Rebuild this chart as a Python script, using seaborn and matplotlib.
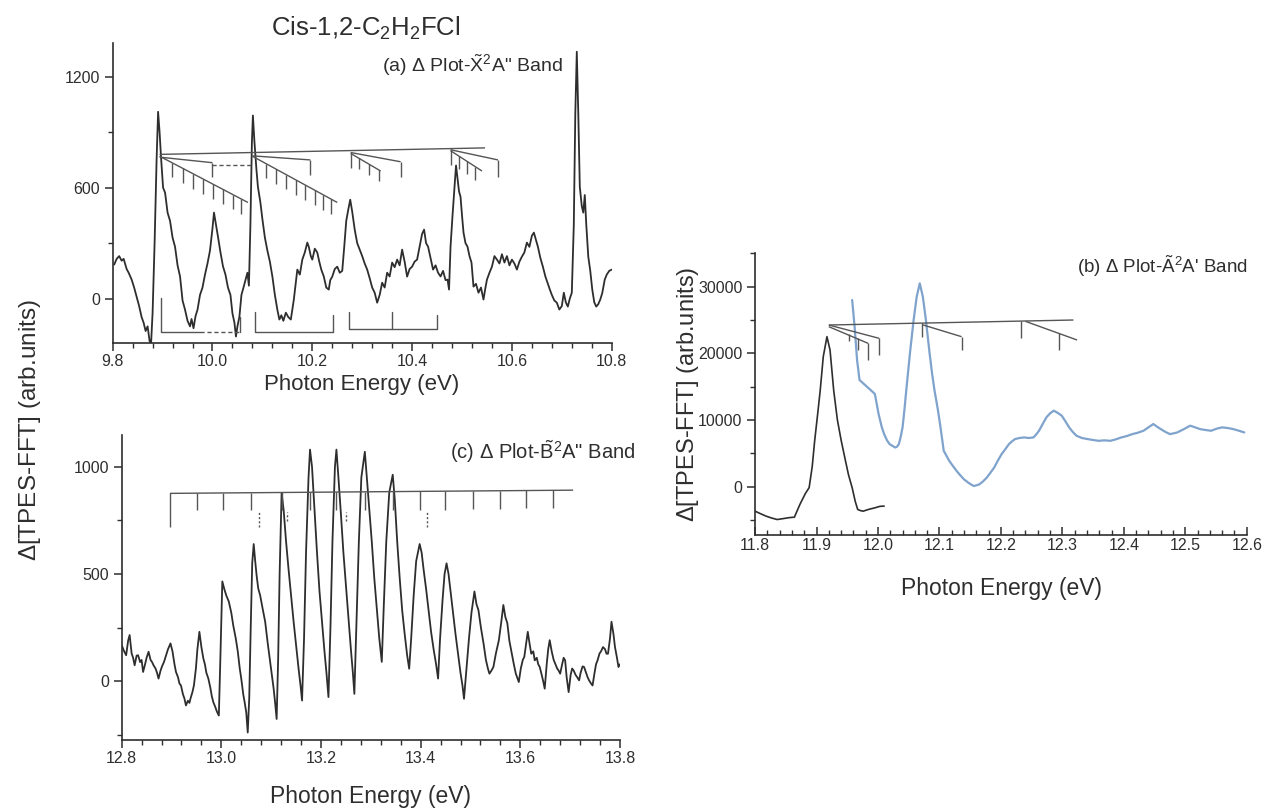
import numpy as np
import pandas as pd
import matplotlib
matplotlib.use("Agg")
import matplotlib.pyplot as plt
import seaborn as sns
from matplotlib.ticker import MultipleLocator, FormatStrFormatter

# ---------------- data: panel (a)  X~2A" band ----------------
a_energy = [9.803, 9.808, 9.813, 9.818, 9.822, 9.828, 9.832, 9.838, 9.843, 9.848, 9.853, 9.858, 9.862, 9.866,
            9.870, 9.874, 9.877, 9.880, 9.884, 9.888, 9.891, 9.894, 9.897, 9.901, 9.905, 9.910, 9.915, 9.920,
            9.925, 9.930, 9.935, 9.940, 9.945, 9.950, 9.955, 9.958, 9.962, 9.966, 9.970, 9.975, 9.980, 9.985,
            9.990, 9.995, 10.000, 10.003, 10.007, 10.011, 10.016, 10.021, 10.026, 10.031, 10.036, 10.040,
            10.044, 10.047, 10.050, 10.054, 10.058, 10.061, 10.066, 10.070, 10.073, 10.076, 10.079, 10.081,
            10.084, 10.088, 10.091, 10.096, 10.100, 10.105, 10.110, 10.115, 10.120, 10.125, 10.130, 10.134,
            10.138, 10.142, 10.147, 10.152, 10.157, 10.160, 10.163, 10.167, 10.170, 10.175, 10.180, 10.185,
            10.190, 10.193, 10.197, 10.200, 10.205, 10.210, 10.214, 10.218, 10.223, 10.228, 10.233, 10.236,
            10.240, 10.245, 10.250, 10.255, 10.260, 10.264, 10.268, 10.272, 10.276, 10.280, 10.285, 10.290,
            10.295, 10.300, 10.305, 10.310, 10.315, 10.320, 10.325, 10.330, 10.335, 10.340, 10.345, 10.350,
            10.355, 10.360, 10.365, 10.370, 10.375, 10.380, 10.385, 10.390, 10.395, 10.400, 10.405, 10.410,
            10.415, 10.420, 10.424, 10.428, 10.432, 10.437, 10.442, 10.447, 10.452, 10.457, 10.462, 10.467,
            10.471, 10.474, 10.477, 10.481, 10.485, 10.488, 10.491, 10.494, 10.497, 10.500, 10.503, 10.507,
            10.511, 10.515, 10.519, 10.523, 10.528, 10.533, 10.538, 10.543, 10.547, 10.550, 10.555, 10.560,
            10.565, 10.570, 10.575, 10.580, 10.585, 10.590, 10.595, 10.600, 10.605, 10.610, 10.615, 10.620,
            10.625, 10.630, 10.635, 10.640, 10.644, 10.648, 10.652, 10.657, 10.662, 10.667, 10.672, 10.676,
            10.680, 10.685, 10.690, 10.695, 10.700, 10.704, 10.708, 10.712, 10.716, 10.720, 10.724, 10.727,
            10.730, 10.733, 10.736, 10.740, 10.743, 10.746, 10.749, 10.753, 10.757, 10.761, 10.765, 10.769,
            10.773, 10.777, 10.781, 10.786, 10.790, 10.795, 10.800]
a_signal = [184, 215, 230, 205, 215, 160, 140, 103, 60, 11, -40, -100, -130, -175,
            -150, -230, -240, -76, 300, 750, 1010, 900, 760, 600, 573, 465, 420, 330,
            280, 180, 120, -10, -60, -120, -150, -110, -160, -95, -60, 20, 60, 130,
            190, 260, 380, 465, 400, 335, 250, 175, 130, 60, 20, -80,
            -130, -205, -150, -97, 20, 49, 100, 140, 70, 400, 850, 990,
            850, 700, 605, 520, 430, 330, 260, 200, 120, 20, -60, -113,
            -90, -120, -76, -100, -113, -60, -5, 90, 157, 130, 211, 250,
            303, 280, 230, 211, 270, 249, 200, 157, 120, 60, 49, 100,
            119, 160, 173, 140, 150, 280, 420, 480, 535, 470, 373, 300,
            265, 230, 190, 157, 110, 60, 32, -22, 20, 86, 60, 140,
            120, 195, 170, 211, 180, 265, 200, 119, 160, 173, 200, 211,
            280, 350, 373, 300, 281, 220, 157, 180, 140, 120, 150, 100,
            103, 49, 281, 450, 600, 720, 650, 580, 551, 450, 357, 300,
            281, 230, 195, 65, 80, 32, 60, -5, 60, 103, 140, 173,
            230, 211, 190, 240, 195, 230, 180, 211, 190, 157, 200, 227,
            250, 303, 280, 340, 357, 320, 281, 220, 173, 120, 80, 49,
            20, -10, -22, -59, -40, 32, -20, -43, 0, 32, 400, 1000,
            1335, 1000, 605, 500, 465, 560, 400, 227, 150, 49, -20, -43,
            -30, -5, 30, 103, 130, 150, 157]

# assignment combs, panel (a): solid lines (E0, E1, V0, V1)
a_comb_lines = [(9.894, 10.546, 780, 815), (9.894, 10.071, 770, 520), (9.894, 10.000, 765, 735),
                (10.080, 10.250, 770, 520), (10.080, 10.196, 772, 750), (10.277, 10.377, 790, 740),
                (10.277, 10.337, 785, 690), (10.477, 10.572, 805, 750), (10.477, 10.540, 800, 690)]
a_comb_dashed = [(10.000, 10.078, 725, 725)]
a_tick_E = [9.918, 9.940, 9.961, 9.981, 10.001, 10.021, 10.041, 10.058, 10.000,
            10.107, 10.127, 10.147, 10.167, 10.186, 10.205, 10.222, 10.238, 10.196,
            10.277, 10.377, 10.293, 10.313, 10.333,
            10.477, 10.572, 10.493, 10.510, 10.527]
a_tick_top = [736, 705, 675, 647, 619, 591, 562, 538, 735,
              730, 701, 671, 642, 614, 586, 561, 538, 750,
              795, 740, 760, 728, 696,
              810, 750, 772, 742, 713]
a_tick_bot = [656, 625, 595, 567, 539, 511, 482, 458, 655,
              650, 621, 591, 562, 534, 506, 481, 458, 670,
              705, 660, 700, 668, 636,
              720, 660, 702, 672, 643]
# brackets at the bottom of panel (a)
a_br_E = [[9.896, 9.896, 9.975], [10.055, 10.055], [10.085, 10.085, 10.242, 10.242],
          [10.274, 10.274, 10.449, 10.449], [10.359, 10.359]]
a_br_V = [[2, -178, -178], [-99, -178], [-72, -178, -178, -90],
          [-72, -162, -162, -90], [-72, -162]]
a_br_dashed = [(9.975, 10.055, -178, -178)]

# ---------------- data: panel (b)  A~2A' band ----------------
b_energy_1 = [11.800, 11.810, 11.818, 11.827, 11.836, 11.845, 11.855, 11.864, 11.873, 11.882, 11.888,
              11.893, 11.897, 11.902, 11.906, 11.911, 11.917, 11.922, 11.928, 11.934, 11.940, 11.946,
              11.952, 11.958, 11.963, 11.967, 11.972, 11.976, 11.985, 11.995, 12.003, 12.010]
b_signal_1 = [-3670, -4100, -4420, -4700, -4925, -4800, -4650, -4570, -2660, -1000, -150,
              3000, 6880, 11000, 14420, 19500, 22500, 20500, 14420, 10000, 7000, 4370,
              1800, -150, -2200, -3420, -3600, -3670, -3400, -3170, -2950, -2910]
b_energy_2 = [11.958, 11.962, 11.966, 11.970, 11.976, 11.982, 11.988, 11.995, 12.001, 12.006, 12.010,
              12.015, 12.019, 12.024, 12.028, 12.031, 12.034, 12.037, 12.040, 12.043, 12.046, 12.052,
              12.058, 12.063, 12.068, 12.073, 12.078, 12.084, 12.088, 12.092, 12.097, 12.101, 12.107,
              12.116, 12.122, 12.128, 12.134, 12.140, 12.147, 12.152, 12.156, 12.160, 12.165, 12.171,
              12.177, 12.183, 12.189, 12.195, 12.201, 12.207, 12.213, 12.218, 12.223, 12.230, 12.238,
              12.245, 12.253, 12.258, 12.262, 12.268, 12.274, 12.280, 12.286, 12.292, 12.299, 12.305,
              12.311, 12.317, 12.323, 12.332, 12.341, 12.350, 12.359, 12.368, 12.378, 12.387, 12.396,
              12.405, 12.414, 12.423, 12.432, 12.440, 12.448, 12.454, 12.460, 12.468, 12.475, 12.481,
              12.487, 12.497, 12.508, 12.516, 12.524, 12.533, 12.542, 12.551, 12.560, 12.569, 12.578,
              12.587, 12.596]
b_signal_2 = [28000, 24000, 19000, 16000, 15500, 15000, 14500, 13900, 10900, 9000, 7890,
              6900, 6380, 6100, 5880, 6000, 6380, 7500, 8900, 11500, 14420, 20000,
              25000, 28500, 30500, 28500, 25000, 20000, 17000, 14420, 11800, 9400, 5380,
              3870, 3100, 2360, 1700, 1100, 600, 300, 100, 200, 350, 800,
              1360, 2100, 2860, 3900, 4870, 5600, 6380, 6800, 7140, 7300, 7390,
              7300, 7390, 7900, 8390, 9400, 10400, 11000, 11400, 11100, 10650, 9800,
              8900, 8200, 7640, 7300, 7140, 7000, 6880, 6950, 6880, 7100, 7390,
              7600, 7890, 8100, 8390, 8900, 9400, 9000, 8640, 8200, 7890, 8000,
              8140, 8600, 9150, 8900, 8640, 8500, 8390, 8700, 8900, 8800, 8640,
              8400, 8140]
b_comb_lines = [(11.920, 12.318, 24250, 25000), (11.920, 12.002, 24250, 22250), (11.920, 11.984, 24000, 21500),
                (12.072, 12.136, 24300, 22500), (12.240, 12.324, 24800, 22000)]
b_tick_E = [12.002, 11.953, 11.967, 11.984, 12.072, 12.136, 12.233, 12.294]
b_tick_top = [22250, 22900, 22300, 21500, 24500, 22500, 24800, 23000]
b_tick_bot = [19750, 21800, 20500, 19000, 22500, 20500, 22250, 20500]

# ---------------- data: panel (c)  B~2A" band ----------------
c_energy = [12.800, 12.805, 12.809, 12.813, 12.816, 12.820, 12.823, 12.826, 12.830, 12.833, 12.837, 12.840,
            12.843, 12.847, 12.850, 12.854, 12.858, 12.861, 12.864, 12.868, 12.871, 12.874, 12.878, 12.881,
            12.885, 12.889, 12.893, 12.898, 12.902, 12.906, 12.909, 12.913, 12.916, 12.919, 12.923, 12.926,
            12.929, 12.933, 12.936, 12.938, 12.942, 12.945, 12.949, 12.952, 12.956, 12.960, 12.964, 12.967,
            12.970, 12.974, 12.978, 12.981, 12.984, 12.988, 12.991, 12.995, 12.998, 13.002, 13.006, 13.010,
            13.015, 13.020, 13.024, 13.029, 13.033, 13.037, 13.040, 13.044, 13.047, 13.050, 13.053, 13.056,
            13.059, 13.062, 13.065, 13.068, 13.071, 13.074, 13.078, 13.082, 13.088, 13.093, 13.098, 13.102,
            13.105, 13.108, 13.111, 13.114, 13.117, 13.121, 13.125, 13.130, 13.135, 13.140, 13.145, 13.150,
            13.155, 13.159, 13.162, 13.166, 13.170, 13.175, 13.178, 13.182, 13.187, 13.192, 13.197, 13.202,
            13.207, 13.211, 13.215, 13.219, 13.223, 13.228, 13.231, 13.235, 13.240, 13.245, 13.250, 13.255,
            13.260, 13.264, 13.267, 13.271, 13.276, 13.281, 13.288, 13.292, 13.297, 13.302, 13.307, 13.312,
            13.317, 13.322, 13.326, 13.331, 13.337, 13.344, 13.348, 13.353, 13.358, 13.363, 13.368, 13.373,
            13.377, 13.381, 13.386, 13.391, 13.398, 13.402, 13.406, 13.411, 13.416, 13.421, 13.426, 13.431,
            13.435, 13.439, 13.444, 13.448, 13.452, 13.456, 13.460, 13.465, 13.470, 13.475, 13.480, 13.484,
            13.487, 13.492, 13.497, 13.502, 13.508, 13.512, 13.516, 13.521, 13.526, 13.531, 13.535, 13.538,
            13.542, 13.546, 13.551, 13.557, 13.562, 13.566, 13.570, 13.574, 13.578, 13.582, 13.587, 13.591,
            13.595, 13.597, 13.601, 13.605, 13.608, 13.612, 13.615, 13.619, 13.622, 13.626, 13.629, 13.633,
            13.636, 13.639, 13.643, 13.646, 13.649, 13.653, 13.656, 13.659, 13.663, 13.667, 13.670, 13.674,
            13.677, 13.680, 13.684, 13.687, 13.690, 13.693, 13.697, 13.701, 13.704, 13.707, 13.711, 13.714,
            13.718, 13.721, 13.725, 13.728, 13.732, 13.735, 13.738, 13.742, 13.745, 13.749, 13.752, 13.755,
            13.759, 13.762, 13.766, 13.770, 13.773, 13.776, 13.780, 13.783, 13.787, 13.790, 13.794, 13.797,
            13.800]
c_signal = [169, 140, 122, 190, 216, 130, 110, 75, 120, 122, 90, 100,
            44, 80, 110, 138, 100, 90, 75, 60, 40, 13, 50, 70,
            91, 120, 150, 177, 140, 80, 44, 20, -10, -19, -60, -80,
            -112, -90, -100, -81, -50, -19, 60, 150, 231, 160, 106, 80,
            40, 13, -30, -70, -97, -120, -140, -159, 100, 466, 430, 400,
            372, 320, 260, 200, 140, 60, 13, -60, -100, -144, -238, -80,
            250, 550, 640, 560, 490, 434, 400, 350, 278, 180, 91, 20,
            -34, -100, -175, 100, 500, 878, 800, 650, 520, 400, 280, 170,
            60, -20, -89, 200, 600, 950, 1080, 1000, 800, 600, 420, 280,
            140, 40, -73, 250, 650, 1000, 1080, 950, 780, 600, 450, 300,
            150, 40, -58, 250, 650, 950, 1070, 950, 800, 650, 480, 340,
            200, 91, 350, 650, 880, 963, 850, 650, 480, 330, 220, 120,
            59, 200, 400, 560, 640, 600, 520, 430, 330, 230, 150, 80,
            13, 200, 380, 500, 550, 500, 420, 320, 220, 130, 40, -20,
            -81, 60, 200, 320, 419, 360, 332, 250, 180, 100, 60, 36,
            50, 67, 130, 192, 280, 356, 300, 271, 190, 140, 80, 36,
            10, -3, 60, 100, 114, 180, 231, 170, 129, 140, 98, 110,
            80, 67, 30, 0, -34, 80, 150, 192, 140, 100, 83, 60,
            50, 36, 80, 110, 98, 20, -50, 30, 60, 51, 30, 20,
            5, 40, 70, 67, 40, 20, 5, -10, -19, 40, 80, 98,
            130, 140, 160, 150, 129, 129, 200, 278, 220, 160, 110, 67,
            80]
c_comb_lines = [(12.897, 13.706, 876, 891)]
c_tick_E = [12.897, 12.952, 13.003, 13.059, 13.121, 13.178, 13.231, 13.288, 13.344, 13.398,
            13.449, 13.505, 13.559, 13.612, 13.666]
c_tick_top = [877, 878, 879, 880, 881, 882, 883, 884, 885, 886, 887, 888, 889, 890, 891]
c_tick_bot = [720, 798, 798, 798, 798, 798, 798, 798, 798, 798, 800, 802, 804, 806, 808]
c_dot_E = [13.075, 13.131, 13.251, 13.412]
c_dot_top = [790, 790, 790, 790]
c_dot_bot = [720, 745, 745, 720]

# ---------------- style ----------------
sns.set_theme(style="ticks")
plt.rcParams["font.family"] = ["Liberation Sans", "DejaVu Sans"]
plt.rcParams["mathtext.fontset"] = "custom"
plt.rcParams["mathtext.rm"] = "Liberation Sans"
plt.rcParams["mathtext.it"] = "Liberation Sans:italic"
plt.rcParams["mathtext.bf"] = "Liberation Sans:bold"

INK = "#2e2e2e"
COMB = "#555555"
BLUE = "#7fa3cc"

fig = plt.figure(figsize=(12.66, 8.09), dpi=100)
ax_a = fig.add_axes([0.0890, 0.5760, 0.3942, 0.3708])
ax_c = fig.add_axes([0.0961, 0.0853, 0.3936, 0.3770])
ax_b = fig.add_axes([0.5964, 0.3387, 0.3884, 0.3486])


def style_axes(ax, xlim, ylim, xmaj, xmin, ymaj, ymin, xdir):
    ax.set_xlim(*xlim)
    ax.set_ylim(*ylim)
    sns.despine(ax=ax)
    for s in ("left", "bottom"):
        ax.spines[s].set_color(INK)
        ax.spines[s].set_linewidth(1.2)
    ax.xaxis.set_major_locator(MultipleLocator(xmaj))
    ax.xaxis.set_minor_locator(MultipleLocator(xmin))
    ax.yaxis.set_major_locator(MultipleLocator(ymaj))
    ax.yaxis.set_minor_locator(MultipleLocator(ymin))
    ax.xaxis.set_major_formatter(FormatStrFormatter("%.1f"))
    ax.tick_params(axis="x", which="major", direction=xdir, length=6, width=1.1, color=INK,
                   labelsize=11.5, labelcolor=INK, pad=2)
    ax.tick_params(axis="x", which="minor", direction=xdir, length=3.5, width=1.0, color=INK)
    ax.tick_params(axis="y", which="major", direction="out", length=6, width=1.1, color=INK,
                   labelsize=11.5, labelcolor=INK, pad=3)
    ax.tick_params(axis="y", which="minor", direction="out", length=3.5, width=1.0, color=INK)
    ax.set_xlabel("")
    ax.set_ylabel("")
    ax.patch.set_alpha(0)


def draw_comb(ax, lines, tE, tTop, tBot, dashed=(), dotted=None):
    for e0, e1, v0, v1 in lines:
        ax.plot([e0, e1], [v0, v1], color=COMB, lw=1.0, solid_capstyle="butt")
    for e0, e1, v0, v1 in dashed:
        ax.plot([e0, e1], [v0, v1], color=COMB, lw=1.0, ls=(0, (3, 2)))
    ax.vlines(tE, tBot, tTop, color=COMB, lw=1.0)
    if dotted is not None:
        dE, dTop, dBot = dotted
        ax.vlines(dE, dBot, dTop, color=COMB, lw=1.0, linestyles=(0, (1.5, 1.5)))


# panel (a)
df_a = pd.DataFrame({"E": a_energy, "S": a_signal})
sns.lineplot(data=df_a, x="E", y="S", ax=ax_a, color=INK, lw=1.3, estimator=None, sort=False)
draw_comb(ax_a, a_comb_lines, a_tick_E, a_tick_top, a_tick_bot, dashed=a_comb_dashed)
for eL, vL in zip(a_br_E, a_br_V):
    ax_a.plot(eL, vL, color=COMB, lw=1.0)
for e0, e1, v0, v1 in a_br_dashed:
    ax_a.plot([e0, e1], [v0, v1], color=COMB, lw=1.0, ls=(0, (3, 2)))
style_axes(ax_a, (9.8, 10.8), (-240, 1382), 0.2, 0.04, 600, 300, "out")

# panel (c)
df_c = pd.DataFrame({"E": c_energy, "S": c_signal})
sns.lineplot(data=df_c, x="E", y="S", ax=ax_c, color=INK, lw=1.3, estimator=None, sort=False)
draw_comb(ax_c, c_comb_lines, c_tick_E, c_tick_top, c_tick_bot, dotted=(c_dot_E, c_dot_top, c_dot_bot))
style_axes(ax_c, (12.8, 13.8), (-273, 1148), 0.2, 0.04, 500, 250, "out")

# panel (b)
df_b1 = pd.DataFrame({"E": b_energy_1, "S": b_signal_1})
df_b2 = pd.DataFrame({"E": b_energy_2, "S": b_signal_2})
sns.lineplot(data=df_b1, x="E", y="S", ax=ax_b, color=INK, lw=1.2, estimator=None, sort=False)
sns.lineplot(data=df_b2, x="E", y="S", ax=ax_b, color=BLUE, lw=1.6, estimator=None, sort=False)
draw_comb(ax_b, b_comb_lines, b_tick_E, b_tick_top, b_tick_bot)
style_axes(ax_b, (11.8, 12.6), (-7245, 35055), 0.1, 0.02, 10000, 5000, "in")

# texts
fig.text(0.289, 0.965, r"Cis-1,2-C$_2$H$_2$FCl", ha="center", va="center", fontsize=18.5, color=INK)
fig.text(0.4447, 0.9197, r'(a) $\Delta$ Plot-$\tilde{\mathrm{X}}^2$A" Band', ha="right", va="center",
         fontsize=14, color=INK)
fig.text(0.5016, 0.4413, r'(c) $\Delta$ Plot-$\tilde{\mathrm{B}}^2$A" Band', ha="right", va="center",
         fontsize=14.5, color=INK)
fig.text(0.9858, 0.671, r"(b) $\Delta$ Plot-$\tilde{\mathrm{A}}^2$A' Band", ha="right", va="center",
         fontsize=13.5, color=INK)

fig.text(0.286, 0.5245, "Photon Energy (eV)", ha="center", va="center", fontsize=16, color=INK)
fig.text(0.293, 0.016, "Photon Energy (eV)", ha="center", va="center", fontsize=16.5, color=INK)
fig.text(0.7907, 0.273, "Photon Energy (eV)", ha="center", va="center", fontsize=16.5, color=INK)
fig.text(0.0237, 0.468, r"$\Delta$[TPES-FFT] (arb.units)", ha="center", va="center", rotation=90,
         fontsize=17.5, color=INK)
fig.text(0.5435, 0.513, r"$\Delta$[TPES-FFT] (arb.units)", ha="center", va="center", rotation=90,
         fontsize=17, color=INK)

fig.savefig("out.png", dpi=100)
